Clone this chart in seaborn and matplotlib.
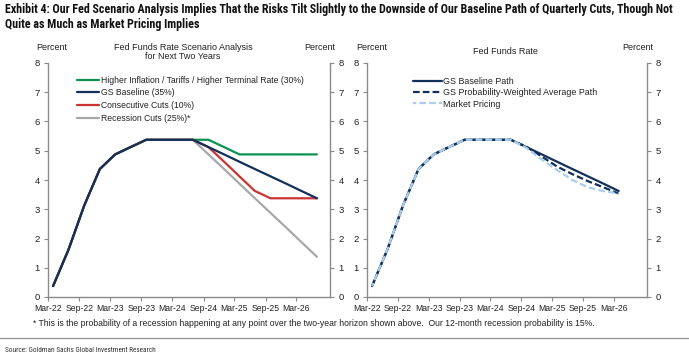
import seaborn as sns
import pandas as pd
import matplotlib
matplotlib.use("Agg")
import matplotlib.pyplot as plt
import matplotlib.dates as mdates
from matplotlib import font_manager
from matplotlib.lines import Line2D

# quarterly points, Mar-22 .. Jun-26
quarters = pd.period_range("2022Q1", "2026Q2", freq="Q").to_timestamp(how="end").normalize()

history = [0.375, 1.625, 3.125, 4.375, 4.875, 5.125, 5.375, 5.375, 5.375, 5.375]
higher_inflation = history + [5.375, 5.125, 4.875, 4.875, 4.875, 4.875, 4.875, 4.875]
gs_baseline = history + [5.125, 4.875, 4.625, 4.375, 4.125, 3.875, 3.625, 3.375]
consecutive_cuts = history + [5.125, 4.625, 4.125, 3.625, 3.375, 3.375, 3.375, 3.375]
recession_cuts = history + [4.875, 4.375, 3.875, 3.375, 2.875, 2.375, 1.875, 1.375]

# right panel runs to Mar-26
baseline_path = gs_baseline[:17]
prob_weighted = history + [5.14, 4.80, 4.46, 4.20, 3.96, 3.75, 3.54]
market_pricing = history + [5.10, 4.70, 4.34, 4.00, 3.75, 3.62, 3.54]

left_labels = ["Higher Inflation / Tariffs / Higher Terminal Rate (30%)", "GS Baseline (35%)",
               "Consecutive Cuts (10%)", "Recession Cuts (25%)*"]
right_labels = ["GS Baseline Path", "GS Probability-Weighted Average Path", "Market Pricing"]

GREEN = "#0b9150"
NAVY = "#12315a"
RED = "#cc3333"
GRAY = "#a8a8a8"
LIGHT = "#a9cdee"

sns.set_theme(style="white")
available = {f.name for f in font_manager.fontManager.ttflist}
body_font = "Liberation Sans" if "Liberation Sans" in available else "DejaVu Sans"
title_font = body_font
for cand in ["Liberation Sans Narrow", "Roboto Condensed", "DejaVu Sans Condensed"]:
    if cand in available:
        title_font = cand
        break
plt.rcParams["font.family"] = [body_font, "DejaVu Sans"]

left_df = pd.DataFrame({"date": quarters, "green": higher_inflation, "navy": gs_baseline,
                        "red": consecutive_cuts, "gray": recession_cuts})
right_df = pd.DataFrame({"date": quarters[:17], "base": baseline_path,
                         "pw": prob_weighted, "mkt": market_pricing})

fig = plt.figure(figsize=(6.89, 3.59), dpi=100)
ax1 = fig.add_axes([48 / 689, 1 - 297 / 359, 282 / 689, 234 / 359])
ax2 = fig.add_axes([367 / 689, 1 - 297 / 359, 280 / 689, 234 / 359])

lw = 1.6
sns.lineplot(data=left_df, x="date", y="green", ax=ax1, color=GREEN, lw=lw, label=left_labels[0], zorder=2)
sns.lineplot(data=left_df, x="date", y="navy", ax=ax1, color=NAVY, lw=lw, label=left_labels[1], zorder=5)
sns.lineplot(data=left_df, x="date", y="red", ax=ax1, color=RED, lw=lw, label=left_labels[2], zorder=3)
sns.lineplot(data=left_df, x="date", y="gray", ax=ax1, color=GRAY, lw=lw, label=left_labels[3], zorder=1)

sns.lineplot(data=right_df, x="date", y="base", ax=ax2, color=NAVY, lw=lw, label=right_labels[0], zorder=2)
sns.lineplot(data=right_df, x="date", y="pw", ax=ax2, color=NAVY, lw=lw, label=right_labels[1],
             linestyle=(0, (3, 1.4)), zorder=3)
sns.lineplot(data=right_df, x="date", y="mkt", ax=ax2, color=LIGHT, lw=lw, label=right_labels[2],
             linestyle=(1.5, (3, 1.4)), zorder=4)

tick_dates = pd.date_range("2022-03-01", "2026-03-01", freq="6MS")
for ax in (ax1, ax2):
    ax.set_xlim(pd.Timestamp("2022-03-01"), pd.Timestamp("2026-09-15"))
    ax.set_ylim(0, 8)
    ax.set_yticks(range(0, 9))
    ax.set_xticks(tick_dates)
    ax.xaxis.set_major_formatter(mdates.DateFormatter("%b-%y"))
    ax.set_xlabel("")
    ax.set_ylabel("")
    ax.tick_params(axis="x", labelsize=6.2, length=3, width=0.8, color="#8a8a8a", pad=2,
                   bottom=True, labelcolor="#222222")
    ax.tick_params(axis="y", labelsize=6.8, length=3, width=0.8, color="#8a8a8a", pad=3,
                   left=True, right=True, labelleft=True, labelright=True, labelcolor="#222222")
    for side in ["left", "right", "bottom"]:
        ax.spines[side].set_visible(True)
        ax.spines[side].set_color("#8a8a8a")
        ax.spines[side].set_linewidth(1.0)
    ax.spines["top"].set_visible(False)
    ax.set_facecolor("white")

leg1 = ax1.legend(loc="upper left", bbox_to_anchor=(0.09, 0.96), frameon=False, fontsize=6.2,
                  handlelength=2.6, handletextpad=0.15, labelspacing=0.42, borderaxespad=0)
leg2 = ax2.legend(loc="upper left", bbox_to_anchor=(0.15, 0.955), frameon=False, fontsize=6.4,
                  handlelength=3.3, handletextpad=0.15, labelspacing=0.25, borderaxespad=0)
for lg in (leg1, leg2):
    for t in lg.get_texts():
        t.set_color("#222222")

def ftext(x, y, s, **kw):
    fig.text(x / 689, 1 - y / 359, s, **kw)

small = dict(fontsize=6.5, color="#222222", va="center", ha="center")
ftext(52, 47, "Percent", **small)
ftext(320, 47, "Percent", **small)
ftext(183, 52, "Fed Funds Rate Scenario Analysis\nfor Next Two Years", linespacing=1.1, **small)
ftext(372, 47, "Percent", **small)
ftext(638, 47, "Percent", **small)
ftext(505, 51, "Fed Funds Rate", **small)

ftext(5, 3, "Exhibit 4: Our Fed Scenario Analysis Implies That the Risks Tilt Slightly to the Downside "
      "of Our Baseline Path of Quarterly Cuts, Though Not\nQuite as Much as Market Pricing Implies",
      fontsize=8.65, fontweight="bold", family=[title_font, "DejaVu Sans"], color="#111111",
      va="top", ha="left", linespacing=1.2)

ftext(33, 323, "* This is the probability of a recession happening at any point over the two-year horizon "
      "shown above.  Our 12-month recession probability is 15%.", fontsize=6.25, color="#222222",
      va="center", ha="left")

fig.add_artist(Line2D([0, 1], [1 - 338 / 359, 1 - 338 / 359], transform=fig.transFigure,
                      color="#9a9a9a", lw=1.0))
ftext(5, 350, "Source: Goldman Sachs Global Investment Research", fontsize=5.2,
      family=[title_font, "DejaVu Sans"], color="#333333", va="center", ha="left")

fig.savefig("out.png", dpi=100, facecolor="white")
